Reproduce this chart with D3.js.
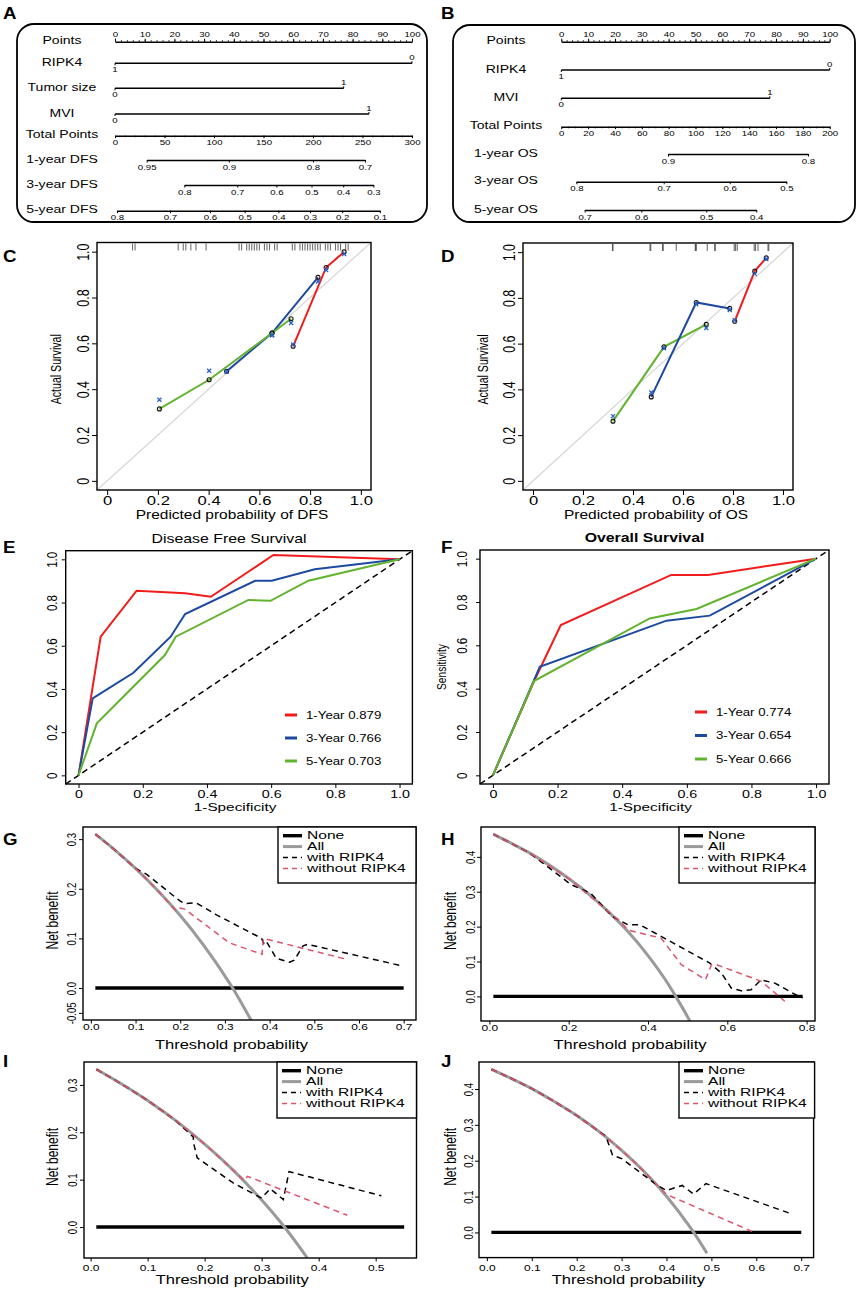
<!DOCTYPE html>
<html>
<head>
<meta charset="utf-8">
<script src="https://cdn.jsdelivr.net/npm/d3@7"></script>
<style>
  body { margin: 0; background: #fff; }
  svg { display: block; }
</style>
</head>
<body>
<svg id="fig" width="858" height="1290"></svg>
<script>
// ---------- A: DFS nomogram ----------
const pointsTicks = [0, 10, 20, 30, 40, 50, 60, 70, 80, 90, 100];
const dfsRowLabels = ["Points", "RIPK4", "Tumor size", "MVI", "Total Points", "1-year DFS", "3-year DFS", "5-year DFS"];
const dfsVarMax = [100, 77, 85.5];
const dfsVarLo = ["1", "0", "0"];
const dfsVarHi = ["0", "1", "1"];
const dfsTotalTicks = [0, 50, 100, 150, 200, 250, 300];
const dfs1yPos = [32, 115, 200, 252.5];
const dfs1yLab = ["0.95", "0.9", "0.8", "0.7"];
const dfs3yPos = [70, 123.5, 163, 198.5, 230.5, 261];
const dfs3yLab = ["0.8", "0.7", "0.6", "0.5", "0.4", "0.3"];
const dfs5yPos = [2, 55.5, 96, 131, 165, 197, 229.5, 267.5];
const dfs5yLab = ["0.8", "0.7", "0.6", "0.5", "0.4", "0.3", "0.2", "0.1"];

// ---------- B: OS nomogram ----------
const osRowLabels = ["Points", "RIPK4", "MVI", "Total Points", "1-year OS", "3-year OS", "5-year OS"];
const osVarMax = [100, 77.7];
const osVarLo = ["1", "0"];
const osVarHi = ["0", "1"];
const osTotalTicks = [0, 20, 40, 60, 80, 100, 120, 140, 160, 180, 200];
const os1yPos = [79.5, 183.8];
const os1yLab = ["0.9", "0.8"];
const os3yPos = [11.2, 76.3, 125.5, 167.7];
const os3yLab = ["0.8", "0.7", "0.6", "0.5"];
const os5yPos = [17.4, 59.6, 108, 145.3];
const os5yLab = ["0.7", "0.6", "0.5", "0.4"];

// ---------- C / D: calibration ----------
const calTicks = [0, 0.2, 0.4, 0.6, 0.8, 1.0];
const calTickLab = ["0", "0.2", "0.4", "0.6", "0.8", "1.0"];
const calDfsRug = [0.10, 0.11, 0.28, 0.30, 0.31, 0.33, 0.35, 0.39, 0.52, 0.53, 0.55, 0.56, 0.57, 0.58, 0.59, 0.60, 0.62, 0.63, 0.64, 0.66, 0.67,
  0.73, 0.74, 0.76, 0.77, 0.78, 0.79, 0.80, 0.81, 0.82, 0.83, 0.84, 0.86, 0.87, 0.88, 0.90, 0.91, 0.92, 0.94, 0.95];
const calDfs1X = [0.733, 0.863, 0.934], calDfs1Y = [0.587, 0.931, 0.999], calDfs1Bc = [0.595, 0.92, 0.99];
const calDfs3X = [0.471, 0.65, 0.831], calDfs3Y = [0.478, 0.645, 0.888], calDfs3Bc = [0.476, 0.635, 0.870];
const calDfs5X = [0.206, 0.402, 0.65, 0.725], calDfs5Y = [0.314, 0.441, 0.645, 0.707], calDfs5Bc = [0.354, 0.48, 0.635, 0.689];
const calOsRug = [0.318, 0.32, 0.468, 0.471, 0.518, 0.521, 0.573, 0.649, 0.651, 0.653, 0.697, 0.727, 0.729, 0.805, 0.81, 0.817, 0.885, 0.89, 0.9, 0.94, 0.943];
const calOs1X = [0.807, 0.887, 0.933], calOs1Y = [0.698, 0.917, 0.975], calOs1Bc = [0.702, 0.905, 0.97];
const calOs3X = [0.473, 0.653, 0.787], calOs3Y = [0.367, 0.78, 0.754], calOs3Bc = [0.386, 0.772, 0.747];
const calOs5X = [0.32, 0.524, 0.693], calOs5Y = [0.261, 0.586, 0.684], calOs5Bc = [0.283, 0.58, 0.668];

// ---------- E / F: ROC ----------
const rocDfs1Fpr = [0, 0.069, 0.181, 0.332, 0.412, 0.607, 1], rocDfs1Tpr = [0, 0.642, 0.855, 0.843, 0.827, 1.02, 1];
const rocDfs3Fpr = [0, 0.044, 0.171, 0.287, 0.332, 0.55, 0.602, 0.736, 1], rocDfs3Tpr = [0, 0.356, 0.475, 0.642, 0.747, 0.901, 0.901, 0.954, 1];
const rocDfs5Fpr = [0, 0.057, 0.269, 0.303, 0.529, 0.598, 0.716, 1], rocDfs5Tpr = [0, 0.241, 0.557, 0.642, 0.812, 0.808, 0.901, 1];
const rocOs1Fpr = [0, 0.129, 0.21, 0.552, 0.666, 1], rocOs1Tpr = [0, 0.44, 0.694, 0.925, 0.925, 1];
const rocOs3Fpr = [0, 0.145, 0.537, 0.671, 1], rocOs3Tpr = [0, 0.501, 0.714, 0.737, 1];
const rocOs5Fpr = [0, 0.127, 0.485, 0.63, 1], rocOs5Tpr = [0, 0.435, 0.724, 0.768, 1];
const rocDfsLegend = ["1-Year 0.879", "3-Year 0.766", "5-Year 0.703"];
const rocOsLegend = ["1-Year 0.774", "3-Year 0.654", "5-Year 0.666"];

// ---------- G-J: decision curves ----------
const dcaLegend = ["None", "All", "with RIPK4", "without RIPK4"];
// G
const gXTicks = [0, 0.1, 0.2, 0.3, 0.4, 0.5, 0.6, 0.7];
const gYTicks = [-0.05, 0, 0.1, 0.2, 0.3], gYLab = ["-0.05", "0.0", "0.1", "0.2", "0.3"];
const gNoneX = [0.01, 0.7];
const gAllX = [0.01, 0.05, 0.1, 0.15, 0.2, 0.25, 0.28, 0.3, 0.32, 0.34, 0.36];
const gAllY = [0.31, 0.281, 0.241, 0.196, 0.146, 0.089, 0.051, 0.024, -0.004, -0.035, -0.067];
const gWithX = [0.01, 0.05, 0.1, 0.125, 0.2, 0.21, 0.235, 0.28, 0.382, 0.387, 0.392, 0.415, 0.445, 0.455, 0.475, 0.485, 0.69];
const gWithY = [0.31, 0.281, 0.241, 0.229, 0.175, 0.17, 0.172, 0.148, 0.1, 0.09, 0.095, 0.06, 0.052, 0.056, 0.085, 0.088, 0.046];
const gWoX = [0.01, 0.05, 0.1, 0.15, 0.19, 0.2, 0.21, 0.31, 0.383, 0.386, 0.572];
const gWoY = [0.31, 0.281, 0.241, 0.196, 0.156, 0.161, 0.159, 0.091, 0.068, 0.1, 0.058];
// H
const hXTicks = [0, 0.2, 0.4, 0.6, 0.8];
const hYTicks = [0, 0.1, 0.2, 0.3, 0.4], hYLab = ["0.0", "0.1", "0.2", "0.3", "0.4"];
const hNoneX = [0.01, 0.79];
const hAllX = [0.01, 0.05, 0.1, 0.15, 0.2, 0.25, 0.3, 0.35, 0.4, 0.45, 0.47, 0.5, 0.51];
const hAllY = [0.465, 0.442, 0.412, 0.377, 0.338, 0.294, 0.243, 0.185, 0.117, 0.037, 0.0, -0.059, -0.08];
const hWithX = [0.01, 0.1, 0.18, 0.205, 0.255, 0.31, 0.35, 0.38, 0.555, 0.585, 0.61, 0.635, 0.66, 0.685, 0.72, 0.78, 0.79];
const hWithY = [0.465, 0.412, 0.343, 0.321, 0.296, 0.229, 0.205, 0.205, 0.096, 0.067, 0.024, 0.016, 0.019, 0.047, 0.038, 0.0, -0.004];
const hWoX = [0.01, 0.1, 0.2, 0.28, 0.33, 0.35, 0.433, 0.484, 0.545, 0.56, 0.57, 0.686, 0.745];
const hWoY = [0.465, 0.412, 0.338, 0.262, 0.215, 0.19, 0.167, 0.091, 0.048, 0.091, 0.092, 0.043, -0.014];
// I
const iXTicks = [0, 0.1, 0.2, 0.3, 0.4, 0.5];
const iYTicks = [0, 0.1, 0.2, 0.3], iYLab = ["0.0", "0.1", "0.2", "0.3"];
const iNoneX = [0.01, 0.55];
const iAllX = [0.01, 0.05, 0.1, 0.15, 0.2, 0.25, 0.3, 0.34, 0.38];
const iAllY = [0.333, 0.305, 0.267, 0.224, 0.175, 0.12, 0.057, 0.0, -0.065];
const iWithX = [0.01, 0.05, 0.1, 0.15, 0.18, 0.181, 0.187, 0.25, 0.3, 0.315, 0.338, 0.348, 0.51];
const iWithY = [0.333, 0.305, 0.267, 0.224, 0.19, 0.175, 0.146, 0.093, 0.061, 0.081, 0.058, 0.117, 0.066];
const iWoX = [0.01, 0.05, 0.1, 0.15, 0.2, 0.25, 0.27, 0.275, 0.45];
const iWoY = [0.333, 0.305, 0.267, 0.224, 0.175, 0.12, 0.098, 0.107, 0.025];
// J
const jXTicks = [0, 0.1, 0.2, 0.3, 0.4, 0.5, 0.6, 0.7];
const jYTicks = [0, 0.1, 0.2, 0.3, 0.4], jYLab = ["0.0", "0.1", "0.2", "0.3", "0.4"];
const jNoneX = [0.01, 0.7];
const jAllX = [0.01, 0.05, 0.1, 0.15, 0.2, 0.25, 0.3, 0.35, 0.4, 0.45, 0.4605, 0.49];
const jAllY = [0.455, 0.432, 0.401, 0.365, 0.326, 0.281, 0.229, 0.17, 0.101, 0.019, 0, -0.058];
const jWithX = [0.01, 0.05, 0.1, 0.15, 0.2, 0.25, 0.265, 0.28, 0.3, 0.38, 0.4, 0.435, 0.46, 0.488, 0.68];
const jWithY = [0.455, 0.432, 0.401, 0.365, 0.326, 0.281, 0.268, 0.215, 0.206, 0.131, 0.117, 0.131, 0.107, 0.136, 0.051];
const jWoX = [0.01, 0.05, 0.1, 0.15, 0.2, 0.25, 0.3, 0.35, 0.4, 0.59];
const jWoY = [0.455, 0.432, 0.401, 0.365, 0.326, 0.281, 0.229, 0.17, 0.106, 0.003];

// ---------- drawing ----------
const FONT = "'Liberation Sans', Arial, Helvetica, sans-serif";
const SX = 1.3; // the figure is stretched sideways, text with it
const RED = "#f21b1b", BLUE = "#1d4aa0", GREEN = "#62b32e", PINK = "#DF536B", GREY = "#9a9a9a";

const svg = d3.select("#fig");

// R pads the axis limits by 4%
const ext = ([a, b]) => [a - (b - a) * 0.04, b + (b - a) * 0.04];

function txt(g, x, y, s, o = {}) {
  const sx = o.sx == null ? SX : o.sx;
  let tr = `translate(${x},${y})`;
  tr += o.rot ? ` rotate(${o.rot}) scale(1,${sx})` : ` scale(${sx},1)`;
  return g.append("text")
    .attr("transform", tr)
    .attr("text-anchor", o.anchor || "middle")
    .attr("dy", o.dy == null ? "0.35em" : o.dy)
    .attr("font-family", FONT)
    .attr("font-size", o.size || 12)
    .attr("font-weight", o.weight || "normal")
    .attr("fill", "#000")
    .text(s);
}

function letter(x, y, s) {
  txt(svg, x, y, s, { size: 17, weight: "bold", anchor: "start", dy: 0, sx: 1.1 });
}

function styleBottom(sel, size, off) {
  sel.attr("font-family", FONT).attr("font-size", size);
  sel.select(".domain").remove();
  sel.selectAll(".tick line").attr("stroke-width", 1);
  sel.selectAll(".tick text").attr("y", off).attr("dy", "0.35em").attr("transform", `scale(${SX},1)`);
}

function styleLeft(sel, size, off) {
  sel.attr("font-family", FONT).attr("font-size", size);
  sel.select(".domain").remove();
  sel.selectAll(".tick line").attr("stroke-width", 1);
  sel.selectAll(".tick text")
    .attr("x", null).attr("y", null).attr("dy", "0.35em").attr("text-anchor", "middle")
    .attr("transform", `translate(${-off},0) rotate(-90) scale(1,${SX})`);
}

function frame(g, b) {
  g.append("rect").attr("x", b.x).attr("y", b.y).attr("width", b.w).attr("height", b.h)
    .attr("fill", "none").attr("stroke", "#000").attr("stroke-width", 1.4);
}

// ---------- nomogram ----------
function nomoAxis(sel, off, size) {
  sel.attr("font-family", FONT).attr("font-size", size || 7.4);
  sel.select(".domain").attr("stroke-width", 1.5);
  sel.selectAll(".tick line").attr("stroke-width", 1);
  sel.selectAll(".tick text").attr("y", off).attr("dy", "0.35em").attr("transform", `scale(${SX},1)`);
}

function nomogram(c) {
  const g = svg.append("g");
  g.append("rect").attr("x", c.box.x).attr("y", c.box.y).attr("width", c.box.w).attr("height", c.box.h)
    .attr("rx", 17).attr("fill", "none").attr("stroke", "#000").attr("stroke-width", 1.8);
  const px = d3.scaleLinear().domain([0, 100]).range([c.x0, c.x1]);
  const tx = d3.scaleLinear().domain([0, c.totalMax]).range([c.x0, c.x1]);
  const nv = c.varMax.length;

  c.rowLabels.forEach((s, i) => txt(g, c.labelX, c.rowY[i] - 1, s, { size: 10.8 }));

  // Points
  const pa = g.append("g").attr("transform", `translate(0,${c.rowY[0]})`)
    .call(d3.axisTop(px).tickValues(pointsTicks).tickSize(3).tickSizeOuter(0));
  nomoAxis(pa, -7);
  const pm = g.append("g").attr("transform", `translate(0,${c.rowY[0]})`)
    .call(d3.axisTop(px).tickValues(d3.range(0, 101, 2)).tickSize(1.6).tickSizeOuter(0).tickFormat(""));
  pm.select(".domain").remove();
  pm.selectAll(".tick line").attr("stroke-width", 0.8);

  // predictors
  c.varMax.forEach((m, i) => {
    const a = g.append("g").attr("transform", `translate(0,${c.rowY[i + 1]})`);
    a.append("line").attr("x1", px(0)).attr("x2", px(m)).attr("stroke", "#000").attr("stroke-width", 1.5);
    a.append("line").attr("x1", px(0)).attr("x2", px(0)).attr("y1", 0).attr("y2", 2).attr("stroke", "#000");
    a.append("line").attr("x1", px(m)).attr("x2", px(m)).attr("y1", 0).attr("y2", -2).attr("stroke", "#000");
    txt(a, px(0), 6, c.varLo[i], { size: 7.4 });
    txt(a, px(m), -6, c.varHi[i], { size: 7.4 });
  });

  // Total points
  const ty = c.rowY[nv + 1];
  const ta = g.append("g").attr("transform", `translate(0,${ty})`)
    .call(d3.axisBottom(tx).tickValues(c.totalTicks).tickSize(2.5).tickSizeOuter(0));
  nomoAxis(ta, 6.5);
  const tm = g.append("g").attr("transform", `translate(0,${ty})`)
    .call(d3.axisBottom(tx).tickValues(d3.range(0, c.totalMax + 1, c.totalMinor)).tickSize(1.6).tickSizeOuter(0).tickFormat(""));
  tm.select(".domain").remove();
  tm.selectAll(".tick line").attr("stroke-width", 0.8);

  // survival probability scales
  c.surv.forEach((s, k) => {
    const lo = d3.min(s.pos), hi = d3.max(s.pos);
    const sc = d3.scaleLinear().domain([lo, hi]).range([tx(lo), tx(hi)]);
    const sa = g.append("g").attr("transform", `translate(0,${c.rowY[nv + 2 + k]})`)
      .call(d3.axisBottom(sc).tickValues(s.pos).tickFormat((d, i) => s.lab[i]).tickSize(2.5).tickSizeOuter(0));
    nomoAxis(sa, 7);
  });
}

// ---------- calibration ----------
function calib(c) {
  const g = svg.append("g");
  const b = c.box;
  const xs = d3.scaleLinear().domain(ext([0, 1])).range([b.x, b.x + b.w]);
  const ys = d3.scaleLinear().domain(ext([0, 1])).range([b.y + b.h, b.y]);
  const lim = ext([0, 1]);

  g.append("line").attr("x1", xs(lim[0])).attr("y1", ys(lim[0])).attr("x2", xs(lim[1])).attr("y2", ys(lim[1]))
    .attr("stroke", "#d8d8d8").attr("stroke-width", 1.3);

  g.selectAll(null).data(c.rug).join("line")
    .attr("x1", d => xs(d)).attr("x2", d => xs(d))
    .attr("y1", b.y + 1).attr("y2", b.y + 8)
    .attr("stroke", "#333").attr("stroke-opacity", 0.7).attr("stroke-width", 1.1);

  const line = d3.line().x(d => xs(d[0])).y(d => ys(d[1]));
  c.series.forEach(s => {
    g.append("path").attr("d", line(s.x.map((v, i) => [v, s.y[i]])))
      .attr("fill", "none").attr("stroke", s.color).attr("stroke-width", 2);
  });
  c.series.forEach(s => {
    s.x.forEach((v, i) => {
      g.append("circle").attr("cx", xs(v)).attr("cy", ys(s.y[i])).attr("r", 2)
        .attr("fill", "none").attr("stroke", "#111").attr("stroke-width", 1.1);
      g.append("path").attr("transform", `translate(${xs(v)},${ys(s.bc[i])})`)
        .attr("d", "M-2,-2L2,2M-2,2L2,-2").attr("stroke", "#2a62c8").attr("stroke-width", 1.3);
    });
  });

  const xa = g.append("g").attr("transform", `translate(0,${b.y + b.h})`)
    .call(d3.axisBottom(xs).tickValues(calTicks).tickFormat((d, i) => calTickLab[i]).tickSize(5));
  styleBottom(xa, 12.8, 11);
  const ya = g.append("g").attr("transform", `translate(${b.x},0)`)
    .call(d3.axisLeft(ys).tickValues(calTicks).tickFormat((d, i) => calTickLab[i]).tickSize(5));
  styleLeft(ya, 12.5, 14);
  frame(g, b);

  txt(g, b.x + b.w / 2 - 2, b.y + b.h + 25, c.xlab, { size: 11.9 });
  txt(g, c.ylabX, b.y + b.h / 2 + 3, "Actual Survival", { size: 10.6, rot: -90 });
}

// ---------- ROC ----------
function roc(c) {
  const g = svg.append("g");
  const b = c.box;
  const lim = ext([0, 1]);
  const xs = d3.scaleLinear().domain(lim).range([b.x, b.x + b.w]);
  const ys = d3.scaleLinear().domain(lim).range([b.y + b.h, b.y]);

  g.append("line").attr("x1", xs(lim[0])).attr("y1", ys(lim[0])).attr("x2", xs(lim[1])).attr("y2", ys(lim[1]))
    .attr("stroke", "#000").attr("stroke-width", 1.5).attr("stroke-dasharray", "6,4");

  const line = d3.line().x(d => xs(d[0])).y(d => ys(d[1]));
  c.series.forEach(s => {
    g.append("path").attr("d", line(s.x.map((v, i) => [v, s.y[i]])))
      .attr("fill", "none").attr("stroke", s.color).attr("stroke-width", 2);
  });

  const xa = g.append("g").attr("transform", `translate(0,${b.y + b.h})`)
    .call(d3.axisBottom(xs).tickValues(calTicks).tickFormat((d, i) => calTickLab[i]).tickSize(4));
  styleBottom(xa, 11, 10);
  const ya = g.append("g").attr("transform", `translate(${b.x},0)`)
    .call(d3.axisLeft(ys).tickValues(calTicks).tickFormat((d, i) => calTickLab[i]).tickSize(4));
  styleLeft(ya, 11.5, c.yOff);
  frame(g, b);

  txt(g, b.x + b.w / 2 - 4, b.y + b.h + 23, "1-Specificity", { size: 11.8 });
  txt(g, b.x + b.w / 2 - 10, b.y - 12, c.title, { size: 12.2, weight: c.bold ? "bold" : "normal" });
  if (c.ylab) txt(g, c.ylabX, b.y + b.h / 2, c.ylab, { size: 10.2, rot: -90 });

  c.legend.forEach((s, i) => {
    const y = c.leg.y + i * c.leg.dy;
    g.append("line").attr("x1", c.leg.x).attr("x2", c.leg.x + 12).attr("y1", y).attr("y2", y)
      .attr("stroke", c.series[i].color).attr("stroke-width", 3);
    txt(g, c.leg.x + 21, y, s, { size: 10.2, anchor: "start" });
  });
}

// ---------- decision curves ----------
function dca(c) {
  const g = svg.append("g");
  const b = c.box;
  const xs = d3.scaleLinear().domain(ext(c.xlim)).range([b.x, b.x + b.w]);
  const ys = d3.scaleLinear().domain(ext(c.ylim)).range([b.y + b.h, b.y]);
  const id = "clip" + c.name;
  g.append("clipPath").attr("id", id).append("rect").attr("x", b.x).attr("y", b.y).attr("width", b.w).attr("height", b.h);
  const p = g.append("g").attr("clip-path", `url(#${id})`);
  const line = d3.line().x(d => xs(d[0])).y(d => ys(d[1]));
  const zip = (xv, yv) => xv.map((v, i) => [v, yv[i]]);

  p.append("path").attr("d", line(c.noneX.map(v => [v, 0])))
    .attr("fill", "none").attr("stroke", "#000").attr("stroke-width", 3.4);
  p.append("path").attr("d", line.curve(d3.curveMonotoneX)(zip(c.allX, c.allY)))
    .attr("fill", "none").attr("stroke", GREY).attr("stroke-width", 3);
  line.curve(d3.curveLinear);
  p.append("path").attr("d", line(zip(c.withX, c.withY)))
    .attr("fill", "none").attr("stroke", "#000").attr("stroke-width", 1.5).attr("stroke-dasharray", "6,4.5");
  p.append("path").attr("d", line(zip(c.woX, c.woY)))
    .attr("fill", "none").attr("stroke", PINK).attr("stroke-width", 1.5).attr("stroke-dasharray", "6,4.5");

  const xa = g.append("g").attr("transform", `translate(0,${b.y + b.h})`)
    .call(d3.axisBottom(xs).tickValues(c.xt).tickFormat(d3.format(".1f")).tickSize(3.5));
  styleBottom(xa, 9.2, c.xOff);
  const ya = g.append("g").attr("transform", `translate(${b.x},0)`)
    .call(d3.axisLeft(ys).tickValues(c.yt).tickFormat((d, i) => c.ytl[i]).tickSize(4));
  styleLeft(ya, 9.6, c.yOff);
  frame(g, b);

  txt(g, b.x + b.w / 2 - 18, b.y + b.h + c.titleOff, "Threshold probability", { size: 12.7 });
  txt(g, c.ylabX, b.y + b.h / 2 - 3, "Net benefit", { size: 12, rot: -90 });

  // legend
  const L = c.leg;
  g.append("rect").attr("x", L.x).attr("y", b.y).attr("width", L.w).attr("height", 56)
    .attr("fill", "#fff").attr("stroke", "#000").attr("stroke-width", 1.4);
  const sty = [
    { c: "#000", w: 3.4, d: null },
    { c: GREY, w: 3, d: null },
    { c: "#000", w: 1.5, d: "5,4" },
    { c: PINK, w: 1.5, d: "5,4" }
  ];
  dcaLegend.forEach((s, i) => {
    const y = b.y + 8.7 + i * 10.9;
    g.append("line").attr("x1", L.x + 5).attr("x2", L.x + 24).attr("y1", y).attr("y2", y)
      .attr("stroke", sty[i].c).attr("stroke-width", sty[i].w).attr("stroke-dasharray", sty[i].d);
    txt(g, L.x + 29, y, s, { size: 10.4, anchor: "start", sx: 1.5 });
  });
}

// ---------- build ----------
letter(3, 19, "A");
letter(441, 19, "B");
letter(3, 262, "C");
letter(441, 262, "D");
letter(3, 553, "E");
letter(441, 553, "F");
letter(3, 845, "G");
letter(441, 845, "H");
letter(3, 1067, "I");
letter(441, 1067, "J");

nomogram({
  box: { x: 17, y: 24, w: 410, h: 198 },
  x0: 115, x1: 412, labelX: 62,
  rowY: [41.7, 63.3, 88.3, 114, 135.7, 160, 185, 210.7],
  rowLabels: dfsRowLabels,
  varMax: dfsVarMax, varLo: dfsVarLo, varHi: dfsVarHi,
  totalMax: 300, totalTicks: dfsTotalTicks, totalMinor: 10,
  surv: [{ pos: dfs1yPos, lab: dfs1yLab }, { pos: dfs3yPos, lab: dfs3yLab }, { pos: dfs5yPos, lab: dfs5yLab }]
});

nomogram({
  box: { x: 453, y: 25, w: 402, h: 197 },
  x0: 561.3, x1: 829.7, labelX: 506,
  rowY: [41.7, 70, 98.3, 126.7, 154, 181.7, 210],
  rowLabels: osRowLabels,
  varMax: osVarMax, varLo: osVarLo, varHi: osVarHi,
  totalMax: 200, totalTicks: osTotalTicks, totalMinor: 5,
  surv: [{ pos: os1yPos, lab: os1yLab }, { pos: os3yPos, lab: os3yLab }, { pos: os5yPos, lab: os5yLab }]
});

calib({
  box: { x: 97, y: 242.5, w: 274, h: 247.5 },
  rug: calDfsRug,
  series: [
    { x: calDfs3X, y: calDfs3Y, bc: calDfs3Bc, color: BLUE },
    { x: calDfs5X, y: calDfs5Y, bc: calDfs5Bc, color: GREEN },
    { x: calDfs1X, y: calDfs1Y, bc: calDfs1Bc, color: RED }
  ],
  xlab: "Predicted probability of DFS", ylabX: 56
});

calib({
  box: { x: 523, y: 243, w: 270, h: 247 },
  rug: calOsRug,
  series: [
    { x: calOs5X, y: calOs5Y, bc: calOs5Bc, color: GREEN },
    { x: calOs3X, y: calOs3Y, bc: calOs3Bc, color: BLUE },
    { x: calOs1X, y: calOs1Y, bc: calOs1Bc, color: RED }
  ],
  xlab: "Predicted probability of OS", ylabX: 483
});

roc({
  box: { x: 65.7, y: 550.7, w: 346.7, h: 233.3 },
  series: [
    { x: rocDfs1Fpr, y: rocDfs1Tpr, color: RED },
    { x: rocDfs3Fpr, y: rocDfs3Tpr, color: BLUE },
    { x: rocDfs5Fpr, y: rocDfs5Tpr, color: GREEN }
  ],
  legend: rocDfsLegend, leg: { x: 285, y: 715, dy: 23 },
  title: "Disease Free Survival", bold: false, yOff: 14
});

roc({
  box: { x: 480, y: 550, w: 349, h: 234 },
  series: [
    { x: rocOs1Fpr, y: rocOs1Tpr, color: RED },
    { x: rocOs3Fpr, y: rocOs3Tpr, color: BLUE },
    { x: rocOs5Fpr, y: rocOs5Tpr, color: GREEN }
  ],
  legend: rocOsLegend, leg: { x: 695, y: 712, dy: 23.5 },
  title: "Overall Survival", bold: true, yOff: 18, ylab: "Sensitivity", ylabX: 441
});

dca({
  name: "G", box: { x: 83, y: 827, w: 333, h: 193 },
  xlim: [0.01, 0.7], ylim: [-0.05, 0.31], xt: gXTicks, yt: gYTicks, ytl: gYLab,
  noneX: gNoneX, allX: gAllX, allY: gAllY, withX: gWithX, withY: gWithY, woX: gWoX, woY: gWoY,
  leg: { x: 278, w: 138 }, xOff: 7, yOff: 11, titleOff: 25, ylabX: 53
});

dca({
  name: "H", box: { x: 481, y: 827, w: 334, h: 194 },
  xlim: [0.01, 0.79], ylim: [-0.05, 0.465], xt: hXTicks, yt: hYTicks, ytl: hYLab,
  noneX: hNoneX, allX: hAllX, allY: hAllY, withX: hWithX, withY: hWithY, woX: hWoX, woY: hWoY,
  leg: { x: 679, w: 136 }, xOff: 7, yOff: 10, titleOff: 24, ylabX: 451
});

dca({
  name: "I", box: { x: 84, y: 1062, w: 332.5, h: 196 },
  xlim: [0.01, 0.55], ylim: [-0.05, 0.333], xt: iXTicks, yt: iYTicks, ytl: iYLab,
  noneX: iNoneX, allX: iAllX, allY: iAllY, withX: iWithX, withY: iWithY, woX: iWoX, woY: iWoY,
  leg: { x: 277, w: 139.5 }, xOff: 10, yOff: 11, titleOff: 22, ylabX: 53
});

dca({
  name: "J", box: { x: 479, y: 1062, w: 334.6, h: 195.6 },
  xlim: [0.01, 0.7], ylim: [-0.05, 0.455], xt: jXTicks, yt: jYTicks, ytl: jYLab,
  noneX: jNoneX, allX: jAllX, allY: jAllY, withX: jWithX, withY: jWithY, woX: jWoX, woY: jWoY,
  leg: { x: 679, w: 135.6 }, xOff: 10, yOff: 10, titleOff: 22, ylabX: 451
});
</script>
</body>
</html>
